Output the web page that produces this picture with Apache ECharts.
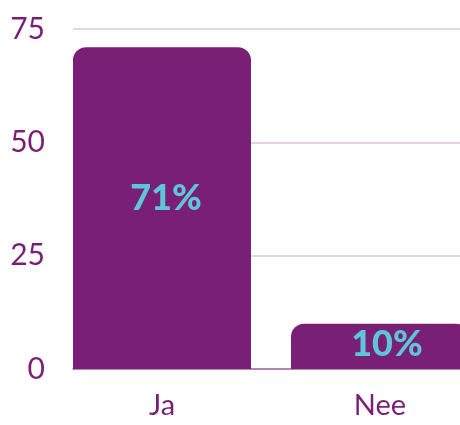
<!DOCTYPE html>
<html>
<head>
<meta charset="utf-8">
<script src="https://cdn.jsdelivr.net/npm/echarts@6/dist/echarts.min.js"></script>
<style>
  html, body { margin: 0; padding: 0; background: #ffffff; }
  #chart { width: 460px; height: 425px; }
</style>
</head>
<body>
<div id="chart"></div>
<script>
var categories = ['Ja', 'Nee'];
var values = [71, 10];
var yTicks = [0, 25, 50, 75];

var purple = '#7a1f76';
// small per-bar nudge of the percentage labels
var labelOffsets = [[4, -10], [7, -2]];

var chart = echarts.init(document.getElementById('chart'), null, { renderer: 'canvas' });

var barData = values.map(function (v, i) {
  return { value: v, label: { offset: labelOffsets[i] } };
});

var option = {
  backgroundColor: '#ffffff',
  animation: false,
  // grid 0 carries the gridlines / y labels, grid 1 carries the bars (runs past the right edge)
  grid: [
    { left: 73, right: 0, top: 29, bottom: 56, outerBoundsMode: 'none', containLabel: false },
    { left: 53, width: 436, top: 29, bottom: 56, outerBoundsMode: 'none', containLabel: false }
  ],
  xAxis: [
    {
      gridIndex: 0,
      type: 'value',
      min: 0,
      max: 1,
      axisLabel: { show: false },
      axisTick: { show: false },
      splitLine: { show: false },
      axisLine: { show: true, lineStyle: { color: '#a66ba3', width: 1.5 } }
    },
    {
      gridIndex: 1,
      type: 'category',
      data: categories,
      axisLine: { show: false },
      axisTick: { show: false },
      axisLabel: {
        margin: 22,
        color: purple,
        fontSize: 29,
        fontFamily: 'Lato',
        fontWeight: 'normal'
      }
    }
  ],
  yAxis: [
    {
      gridIndex: 0,
      type: 'value',
      min: yTicks[0],
      max: yTicks[yTicks.length - 1],
      interval: 25,
      axisLine: { show: false },
      axisTick: { show: false },
      axisLabel: {
        margin: 28,
        color: purple,
        fontSize: 30,
        fontFamily: 'Lato',
        fontWeight: 'normal'
      },
      splitLine: { show: true, lineStyle: { color: '#dcc5dc', width: 1.5 } }
    },
    {
      gridIndex: 1,
      type: 'value',
      min: 0,
      max: 75,
      show: false
    }
  ],
  series: [{
    type: 'bar',
    xAxisIndex: 1,
    yAxisIndex: 1,
    data: barData,
    barWidth: 178,
    itemStyle: { color: purple, borderRadius: [13, 13, 0, 0] },
    label: {
      show: true,
      position: 'inside',
      formatter: '{c}%',
      color: '#5ec6d6',
      fontSize: 36,
      fontFamily: 'Lato',
      fontWeight: 900
    }
  }]
};

chart.setOption(option);
</script>
</body>
</html>
